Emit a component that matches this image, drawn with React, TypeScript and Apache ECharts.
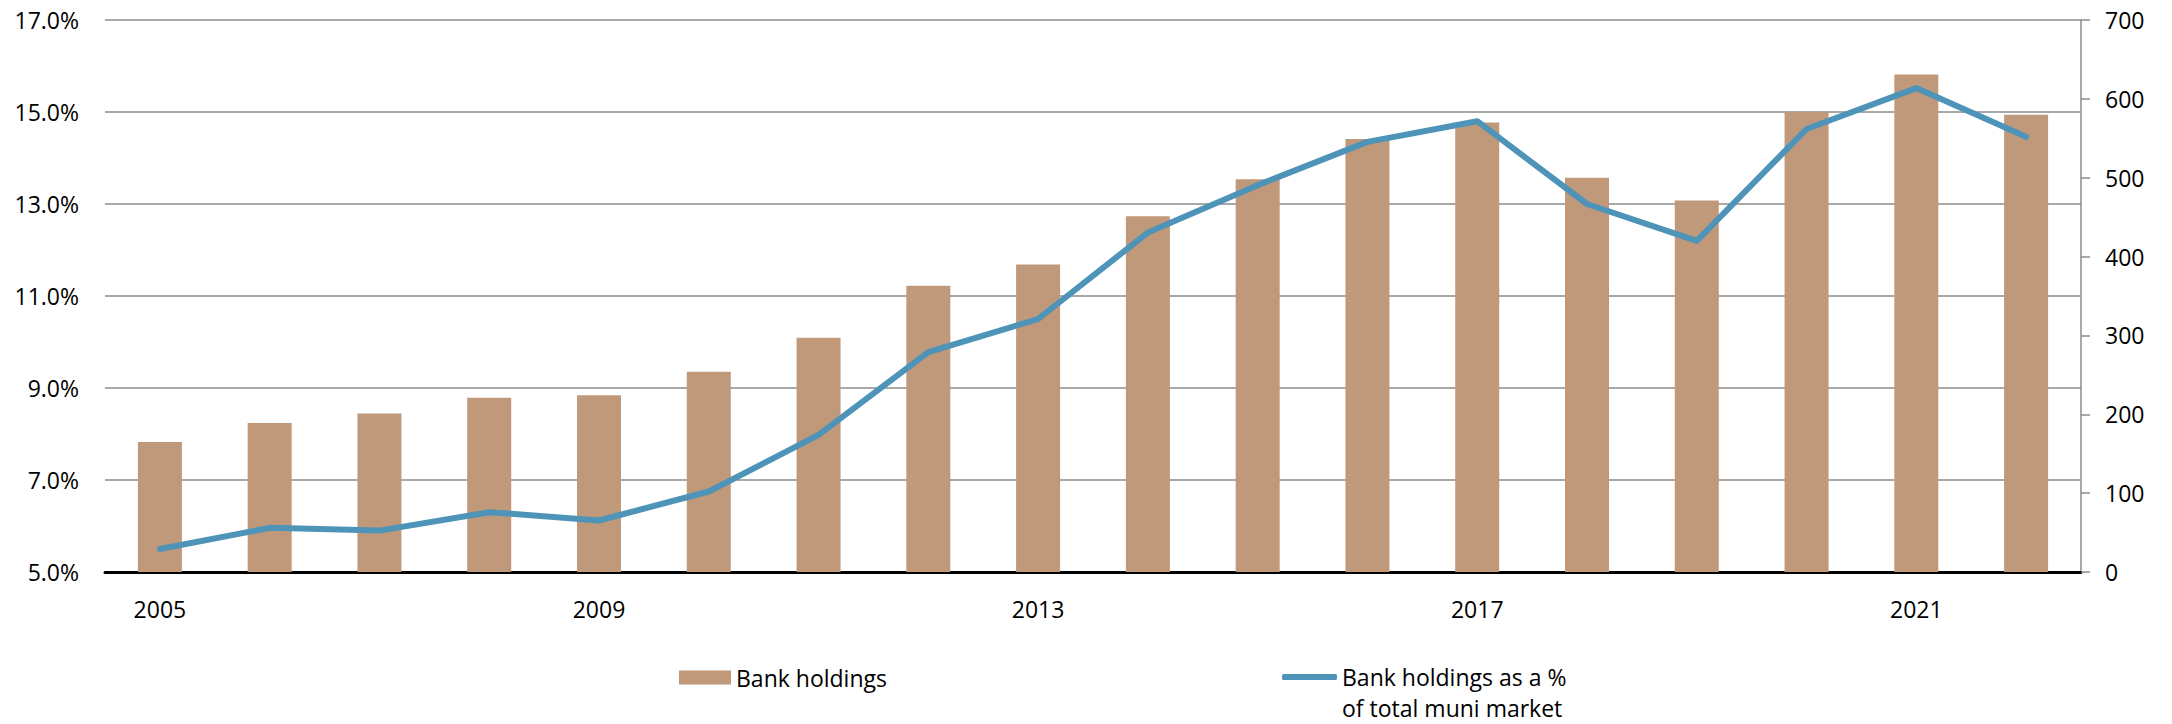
import React, { useEffect, useRef } from "react";
import * as echarts from "echarts";

const years = [
  "2005", "2006", "2007", "2008", "2009", "2010", "2011", "2012", "2013",
  "2014", "2015", "2016", "2017", "2018", "2019", "2020", "2021", "2022",
];
// Bank holdings (right axis)
const bankHoldings = [165, 189, 201, 221, 224, 254, 297, 363, 390, 451, 498, 549, 570, 500, 471, 583, 631, 580];
// Bank holdings as a % of total muni market (left axis, percent)
const bankSharePct = [5.5, 5.96, 5.9, 6.3, 6.12, 6.75, 7.98, 9.78, 10.5, 12.38, 13.41, 14.35, 14.8, 13.0, 12.2, 14.63, 15.52, 14.46];

const leftTicks = [5, 7, 9, 11, 13, 15, 17];
const leftTickLabels = ["5.0%", "7.0%", "9.0%", "11.0%", "13.0%", "15.0%", "17.0%"];
const rightMin = 0;
const rightMax = 700;
const rightInterval = 100;

const barName = "Bank holdings";
const lineName = "Bank holdings as a %\nof total muni market";

export default function App() {
  const ref = useRef<HTMLDivElement>(null);
  useEffect(() => {
    const chart = echarts.init(ref.current as HTMLDivElement, null, { renderer: "svg" });
    const font = "'Open Sans', 'Noto Sans', sans-serif";
    const barColor = "#C0987A";
    const lineColor = "#4E94B8";
    const gridColor = "#8C8C8C";
    chart.setOption({
      animation: false,
      backgroundColor: "#ffffff",
      textStyle: { fontFamily: font },
      grid: { left: 105, right: 91, top: 20, bottom: 152, containLabel: false },
      legend: [
        {
          data: [barName],
          left: 679,
          top: 666,
          padding: 0,
          icon: "rect",
          itemWidth: 52,
          itemHeight: 14,
          itemGap: 0,
          textStyle: { fontFamily: font, fontSize: 23, color: "#000", lineHeight: 23 },
        },
        {
          data: [lineName],
          left: 1282,
          top: 635,
          padding: 0,
          icon: "roundRect",
          itemWidth: 55,
          itemHeight: 6,
          itemGap: 0,
          // blank spacer line keeps the first text line level with the swatch
          formatter: (name: string) => {
            const parts = name.split("\n");
            return "{pad| }\n{l1|" + parts[0] + "}\n{l2|" + parts[1] + "}";
          },
          textStyle: {
            fontFamily: font,
            fontSize: 23,
            color: "#000",
            rich: {
              pad: { fontFamily: font, fontSize: 23, lineHeight: 23, verticalAlign: "middle" },
              l1: { fontFamily: font, fontSize: 23, lineHeight: 38, color: "#000", verticalAlign: "middle" },
              l2: { fontFamily: font, fontSize: 23, lineHeight: 23, color: "#000", verticalAlign: "middle" },
            },
          },
        },
      ],
      xAxis: {
        type: "category",
        data: years,
        boundaryGap: true,
        axisLine: { show: true, lineStyle: { color: "#000", width: 3 } },
        axisTick: { show: false },
        axisLabel: {
          interval: 3,
          margin: 25,
          fontFamily: font,
          fontSize: 23,
          color: "#000",
        },
        splitLine: { show: false },
      },
      yAxis: [
        {
          type: "value",
          position: "left",
          min: leftTicks[0],
          max: leftTicks[leftTicks.length - 1],
          axisLine: { show: false },
          axisTick: { show: false, customValues: leftTicks },
          axisLabel: {
            customValues: leftTicks,
            margin: 26,
            fontFamily: font,
            fontSize: 23,
            color: "#000",
            formatter: (v: number) => leftTickLabels[leftTicks.indexOf(Math.round(v))] ?? "",
          },
          splitLine: { show: true, lineStyle: { color: gridColor, width: 1.5 } },
        },
        {
          type: "value",
          position: "right",
          min: rightMin,
          max: rightMax,
          interval: rightInterval,
          axisLine: { show: true, lineStyle: { color: gridColor, width: 1.5 } },
          axisTick: { show: true, inside: false, length: 9, lineStyle: { color: gridColor, width: 1.5 } },
          axisLabel: {
            margin: 24,
            fontFamily: font,
            fontSize: 23,
            color: "#000",
          },
          splitLine: { show: false },
        },
      ],
      series: [
        {
          name: barName,
          type: "bar",
          yAxisIndex: 1,
          data: bankHoldings,
          barWidth: 44,
          itemStyle: { color: barColor },
          z: 2,
        },
        {
          name: lineName,
          type: "line",
          yAxisIndex: 0,
          data: bankSharePct,
          symbol: "none",
          showSymbol: false,
          lineStyle: { color: lineColor, width: 6, join: "round", cap: "round" },
          itemStyle: { color: lineColor },
          z: 3,
        },
      ],
    });
    return () => chart.dispose();
  }, []);
  return (
    <div
      ref={ref}
      style={{ position: "absolute", left: 0, top: 0, width: 2172, height: 724, background: "#fff" }}
    />
  );
}
